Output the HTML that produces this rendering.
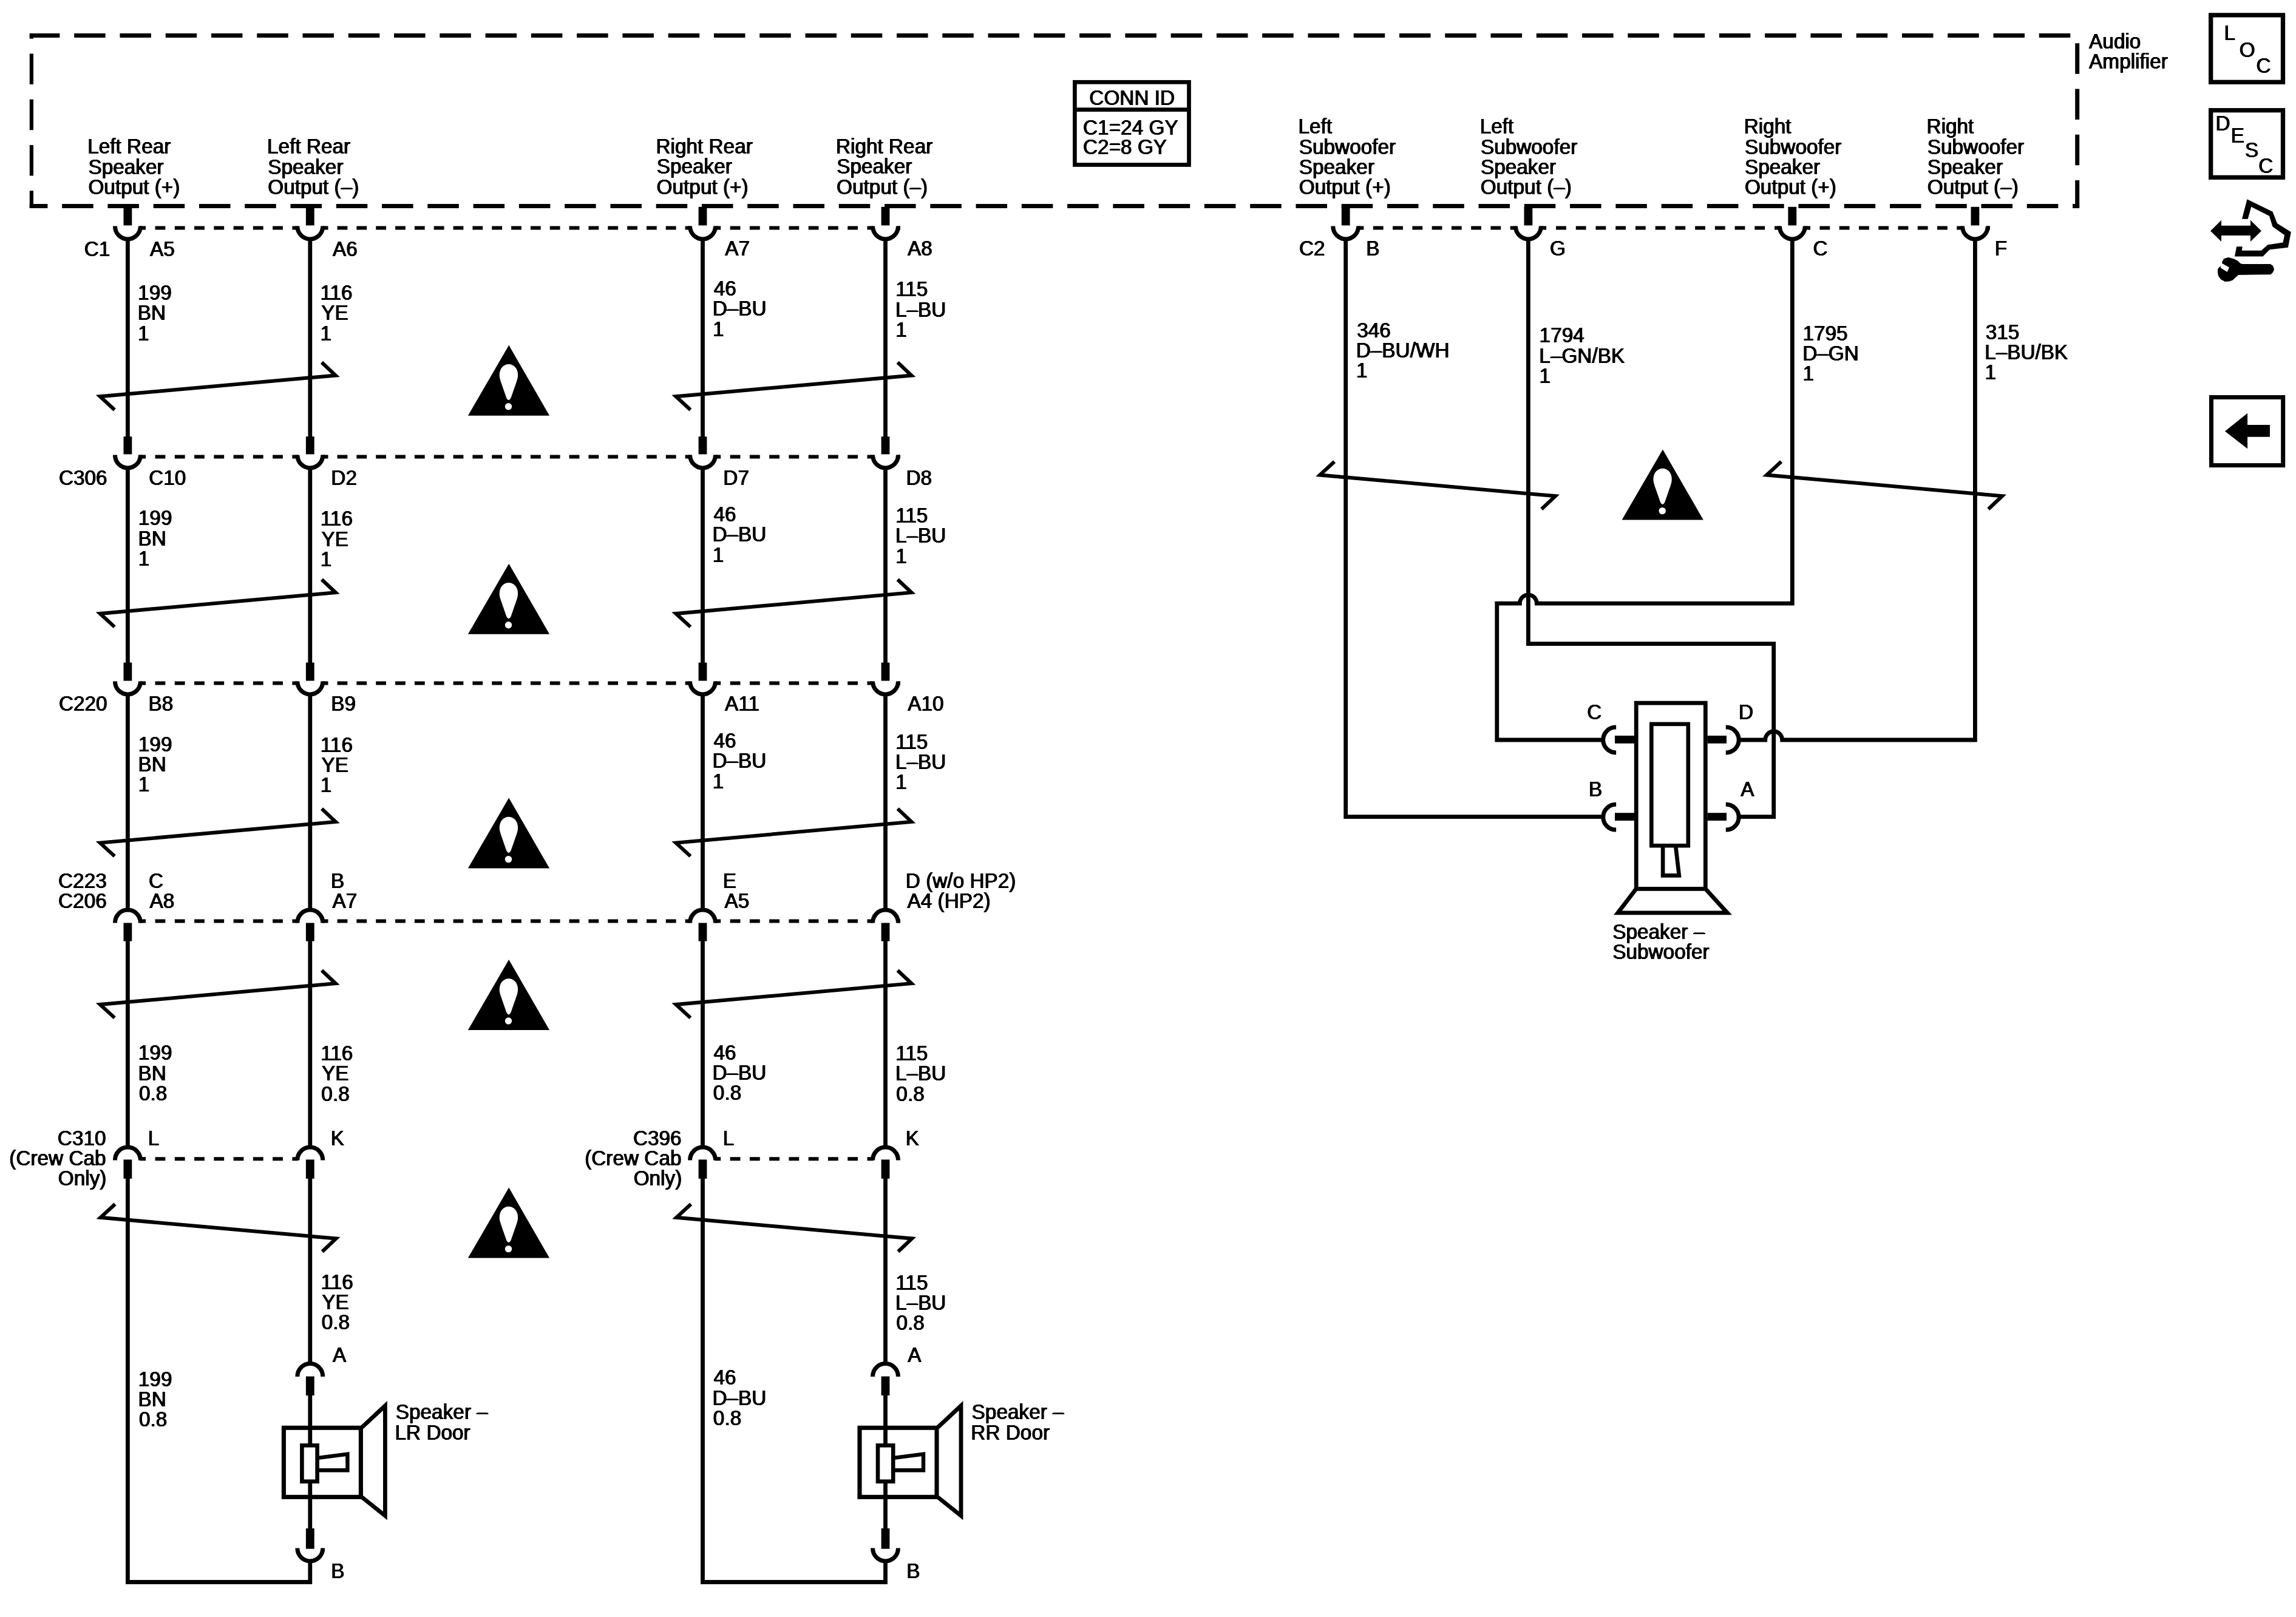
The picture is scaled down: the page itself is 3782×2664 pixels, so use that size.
<!DOCTYPE html>
<html><head><meta charset="utf-8"><title>Audio Amplifier Wiring</title>
<style>
html,body{margin:0;padding:0;background:#fff}
svg{display:block}
svg path,svg rect.o{fill:none;stroke:#000;stroke-miterlimit:6}
svg .k{fill:#000;stroke:none}
svg .w{fill:#fff;stroke:none}
svg text{font-family:"Liberation Sans",sans-serif;font-size:35.0px;fill:#000;white-space:pre;filter:url(#b)}
</style></head><body>
<svg width="3782" height="2664" viewBox="0 0 3782 2664">
<defs><filter id="b" x="-30%" y="-20%" width="160%" height="140%" color-interpolation-filters="sRGB"><feGaussianBlur in="SourceGraphic" stdDeviation="1 0"/><feComponentTransfer><feFuncA type="linear" slope="4" intercept="-0.7"/></feComponentTransfer></filter></defs>
<rect x="0" y="0" width="3782" height="2664" fill="#fff"/>
<path d="M48.8 58.5L3425.1 58.5" stroke-width="7.2" stroke-dasharray="51.5 23.77" stroke-dashoffset="1.9"/>
<path d="M48.8 339.4L3425.1 339.4" stroke-width="7" stroke-dasharray="51.5 23.77" stroke-dashoffset="21.9"/>
<path d="M51.9 54.9L51.9 342.9" stroke-width="6.2" stroke-dasharray="50.6 24.67" stroke-dashoffset="41.7"/>
<path d="M3421.7 55.2L3421.7 342.9" stroke-width="7" stroke-dasharray="50.4 24.87" stroke-dashoffset="59.17"/>
<text transform="translate(144.25 253.1) scale(0.953 1)">Left Rear</text>
<text transform="translate(145.5 286.6) scale(0.953 1)">Speaker</text>
<text transform="translate(145.42 319.7) scale(0.953 1)">Output (+)</text>
<text transform="translate(440.05 253.1) scale(0.953 1)">Left Rear</text>
<text transform="translate(441.3 286.6) scale(0.953 1)">Speaker</text>
<text transform="translate(441.22 319.7) scale(0.953 1)">Output (–)</text>
<text transform="translate(1080.45 253) scale(0.953 1)">Right Rear</text>
<text transform="translate(1081.7 286.4) scale(0.953 1)">Speaker</text>
<text transform="translate(1081.62 319.5) scale(0.953 1)">Output (+)</text>
<text transform="translate(1376.95 253) scale(0.953 1)">Right Rear</text>
<text transform="translate(1378.2 286.4) scale(0.953 1)">Speaker</text>
<text transform="translate(1378.12 319.5) scale(0.953 1)">Output (–)</text>
<text transform="translate(2138.55 220.4) scale(0.953 1)">Left</text>
<text transform="translate(2139.8 253.6) scale(0.953 1)">Subwoofer</text>
<text transform="translate(2139.8 286.9) scale(0.953 1)">Speaker</text>
<text transform="translate(2139.72 320.1) scale(0.953 1)">Output (+)</text>
<text transform="translate(2437.65 220.4) scale(0.953 1)">Left</text>
<text transform="translate(2438.9 253.6) scale(0.953 1)">Subwoofer</text>
<text transform="translate(2438.9 286.9) scale(0.953 1)">Speaker</text>
<text transform="translate(2438.82 320.1) scale(0.953 1)">Output (–)</text>
<text transform="translate(2872.75 220.4) scale(0.953 1)">Right</text>
<text transform="translate(2874 253.6) scale(0.953 1)">Subwoofer</text>
<text transform="translate(2874 286.9) scale(0.953 1)">Speaker</text>
<text transform="translate(2873.92 320.1) scale(0.953 1)">Output (+)</text>
<text transform="translate(3173.55 220.4) scale(0.953 1)">Right</text>
<text transform="translate(3174.8 253.6) scale(0.953 1)">Subwoofer</text>
<text transform="translate(3174.8 286.9) scale(0.953 1)">Speaker</text>
<text transform="translate(3174.72 320.1) scale(0.953 1)">Output (–)</text>
<text transform="translate(3441.12 79.5) scale(0.953 1)">Audio</text>
<text transform="translate(3441.12 112.8) scale(0.953 1)">Amplifier</text>
<rect x="1770.4" y="135.3" width="188.1" height="136.2" class="o" stroke-width="6.7"/>
<path d="M1770 180.6L1959 180.6" stroke-width="6.6"/>
<text transform="translate(1794.33 172.8) scale(0.953 1)">CONN ID</text>
<text transform="translate(1784.03 221.6) scale(0.953 1)">C1=24 GY</text>
<text transform="translate(1784.03 254.4) scale(0.953 1)">C2=8 GY</text>
<path d="M230.3 375.5L240.1 375.5" stroke-width="6.1"/>
<path d="M255.56 375.5L490.9 375.5" stroke-width="6.1" stroke-dasharray="16.8 15.46"/>
<path d="M530.7 375.5L540.5 375.5" stroke-width="6.1"/>
<path d="M555.54 375.5L1137.6 375.5" stroke-width="6.1" stroke-dasharray="16.8 15.04"/>
<path d="M1177.4 375.5L1187.2 375.5" stroke-width="6.1"/>
<path d="M1202.66 375.5L1438.6 375.5" stroke-width="6.1" stroke-dasharray="16.8 15.46"/>
<path d="M1478.4 375.5L1482.9 375.5" stroke-width="6.1"/>
<path d="M230.3 752.5L240.1 752.5" stroke-width="6.1"/>
<path d="M255.56 752.5L490.9 752.5" stroke-width="6.1" stroke-dasharray="16.8 15.46"/>
<path d="M530.7 752.5L540.5 752.5" stroke-width="6.1"/>
<path d="M555.54 752.5L1137.6 752.5" stroke-width="6.1" stroke-dasharray="16.8 15.04"/>
<path d="M1177.4 752.5L1187.2 752.5" stroke-width="6.1"/>
<path d="M1202.66 752.5L1438.6 752.5" stroke-width="6.1" stroke-dasharray="16.8 15.46"/>
<path d="M1478.4 752.5L1482.9 752.5" stroke-width="6.1"/>
<path d="M230.3 1125.5L240.1 1125.5" stroke-width="6.1"/>
<path d="M255.56 1125.5L490.9 1125.5" stroke-width="6.1" stroke-dasharray="16.8 15.46"/>
<path d="M530.7 1125.5L540.5 1125.5" stroke-width="6.1"/>
<path d="M555.54 1125.5L1137.6 1125.5" stroke-width="6.1" stroke-dasharray="16.8 15.04"/>
<path d="M1177.4 1125.5L1187.2 1125.5" stroke-width="6.1"/>
<path d="M1202.66 1125.5L1438.6 1125.5" stroke-width="6.1" stroke-dasharray="16.8 15.46"/>
<path d="M1478.4 1125.5L1482.9 1125.5" stroke-width="6.1"/>
<path d="M230.3 1517.5L240.1 1517.5" stroke-width="6.1"/>
<path d="M255.56 1517.5L490.9 1517.5" stroke-width="6.1" stroke-dasharray="16.8 15.46"/>
<path d="M530.7 1517.5L540.5 1517.5" stroke-width="6.1"/>
<path d="M555.54 1517.5L1137.6 1517.5" stroke-width="6.1" stroke-dasharray="16.8 15.04"/>
<path d="M1177.4 1517.5L1187.2 1517.5" stroke-width="6.1"/>
<path d="M1202.66 1517.5L1438.6 1517.5" stroke-width="6.1" stroke-dasharray="16.8 15.46"/>
<path d="M1478.4 1517.5L1482.9 1517.5" stroke-width="6.1"/>
<path d="M230.3 1909.2L240.1 1909.2" stroke-width="6.1"/>
<path d="M255.56 1909.2L490.9 1909.2" stroke-width="6.1" stroke-dasharray="16.8 15.46"/>
<path d="M1177.4 1909.2L1187.2 1909.2" stroke-width="6.1"/>
<path d="M1202.66 1909.2L1438.6 1909.2" stroke-width="6.1" stroke-dasharray="16.8 15.46"/>
<path d="M2236.6 375.5L2246.4 375.5" stroke-width="6.1"/>
<path d="M2261.86 375.5L2497.5 375.5" stroke-width="6.1" stroke-dasharray="16.8 15.46"/>
<path d="M2537.3 375.5L2547.1 375.5" stroke-width="6.1"/>
<path d="M2563.03 375.5L2932.4 375.5" stroke-width="6.1" stroke-dasharray="16.8 15.93"/>
<path d="M2972.2 375.5L2982 375.5" stroke-width="6.1"/>
<path d="M2997.46 375.5L3233.5 375.5" stroke-width="6.1" stroke-dasharray="16.8 15.46"/>
<path d="M3273.3 375.5L3277.8 375.5" stroke-width="6.1"/>
<rect x="203.5" y="340.8" width="13.8" height="30.6" class="k"/>
<path d="M189.5 372.5L189.5 373A20.9 20.9 0 0 0 231.3 373L231.3 372.5" stroke-width="7.0"/>
<path d="M210.4 393.9L210.4 748" stroke-width="6.8"/>
<rect x="203.5" y="719.2" width="13.8" height="29.2" class="k"/>
<path d="M189.5 749.5L189.5 750A20.9 20.9 0 0 0 231.3 750L231.3 749.5" stroke-width="7.0"/>
<path d="M210.4 770.9L210.4 1121" stroke-width="6.8"/>
<rect x="203.5" y="1091.6" width="13.8" height="30" class="k"/>
<path d="M189.5 1122.5L189.5 1123A20.9 20.9 0 0 0 231.3 1123L231.3 1122.5" stroke-width="7.0"/>
<path d="M210.4 1143.9L210.4 1499.1" stroke-width="6.8"/>
<path d="M189.5 1520.5L189.5 1520A20.9 20.9 0 0 1 231.3 1520L231.3 1520.5" stroke-width="7.0"/>
<rect x="203.5" y="1520.5" width="13.8" height="30.1" class="k"/>
<path d="M210.4 1550L210.4 1890.6" stroke-width="6.8"/>
<path d="M189.5 1911.5L189.5 1911A20.9 20.9 0 0 1 231.3 1911L231.3 1911.5" stroke-width="7.0"/>
<rect x="203.5" y="1910.4" width="13.8" height="31.4" class="k"/>
<rect x="503.9" y="340.8" width="13.8" height="30.6" class="k"/>
<path d="M489.9 372.5L489.9 373A20.9 20.9 0 0 0 531.7 373L531.7 372.5" stroke-width="7.0"/>
<path d="M510.8 393.9L510.8 748" stroke-width="6.8"/>
<rect x="503.9" y="719.2" width="13.8" height="29.2" class="k"/>
<path d="M489.9 749.5L489.9 750A20.9 20.9 0 0 0 531.7 750L531.7 749.5" stroke-width="7.0"/>
<path d="M510.8 770.9L510.8 1121" stroke-width="6.8"/>
<rect x="503.9" y="1091.6" width="13.8" height="30" class="k"/>
<path d="M489.9 1122.5L489.9 1123A20.9 20.9 0 0 0 531.7 1123L531.7 1122.5" stroke-width="7.0"/>
<path d="M510.8 1143.9L510.8 1499.1" stroke-width="6.8"/>
<path d="M489.9 1520.5L489.9 1520A20.9 20.9 0 0 1 531.7 1520L531.7 1520.5" stroke-width="7.0"/>
<rect x="503.9" y="1520.5" width="13.8" height="30.1" class="k"/>
<path d="M510.8 1550L510.8 1890.6" stroke-width="6.8"/>
<path d="M489.9 1911.5L489.9 1911A20.9 20.9 0 0 1 531.7 1911L531.7 1911.5" stroke-width="7.0"/>
<rect x="503.9" y="1910.4" width="13.8" height="31.4" class="k"/>
<rect x="1150.6" y="340.8" width="13.8" height="30.6" class="k"/>
<path d="M1136.6 372.5L1136.6 373A20.9 20.9 0 0 0 1178.4 373L1178.4 372.5" stroke-width="7.0"/>
<path d="M1157.5 393.9L1157.5 748" stroke-width="6.8"/>
<rect x="1150.6" y="719.2" width="13.8" height="29.2" class="k"/>
<path d="M1136.6 749.5L1136.6 750A20.9 20.9 0 0 0 1178.4 750L1178.4 749.5" stroke-width="7.0"/>
<path d="M1157.5 770.9L1157.5 1121" stroke-width="6.8"/>
<rect x="1150.6" y="1091.6" width="13.8" height="30" class="k"/>
<path d="M1136.6 1122.5L1136.6 1123A20.9 20.9 0 0 0 1178.4 1123L1178.4 1122.5" stroke-width="7.0"/>
<path d="M1157.5 1143.9L1157.5 1499.1" stroke-width="6.8"/>
<path d="M1136.6 1520.5L1136.6 1520A20.9 20.9 0 0 1 1178.4 1520L1178.4 1520.5" stroke-width="7.0"/>
<rect x="1150.6" y="1520.5" width="13.8" height="30.1" class="k"/>
<path d="M1157.5 1550L1157.5 1890.6" stroke-width="6.8"/>
<path d="M1136.6 1911.5L1136.6 1911A20.9 20.9 0 0 1 1178.4 1911L1178.4 1911.5" stroke-width="7.0"/>
<rect x="1150.6" y="1910.4" width="13.8" height="31.4" class="k"/>
<rect x="1451.6" y="340.8" width="13.8" height="30.6" class="k"/>
<path d="M1437.6 372.5L1437.6 373A20.9 20.9 0 0 0 1479.4 373L1479.4 372.5" stroke-width="7.0"/>
<path d="M1458.5 393.9L1458.5 748" stroke-width="6.8"/>
<rect x="1451.6" y="719.2" width="13.8" height="29.2" class="k"/>
<path d="M1437.6 749.5L1437.6 750A20.9 20.9 0 0 0 1479.4 750L1479.4 749.5" stroke-width="7.0"/>
<path d="M1458.5 770.9L1458.5 1121" stroke-width="6.8"/>
<rect x="1451.6" y="1091.6" width="13.8" height="30" class="k"/>
<path d="M1437.6 1122.5L1437.6 1123A20.9 20.9 0 0 0 1479.4 1123L1479.4 1122.5" stroke-width="7.0"/>
<path d="M1458.5 1143.9L1458.5 1499.1" stroke-width="6.8"/>
<path d="M1437.6 1520.5L1437.6 1520A20.9 20.9 0 0 1 1479.4 1520L1479.4 1520.5" stroke-width="7.0"/>
<rect x="1451.6" y="1520.5" width="13.8" height="30.1" class="k"/>
<path d="M1458.5 1550L1458.5 1890.6" stroke-width="6.8"/>
<path d="M1437.6 1911.5L1437.6 1911A20.9 20.9 0 0 1 1479.4 1911L1479.4 1911.5" stroke-width="7.0"/>
<rect x="1451.6" y="1910.4" width="13.8" height="31.4" class="k"/>
<path d="M210.4 1941L210.4 2606.5L510.8 2606.5L510.8 2571.9" stroke-width="6.8"/>
<path d="M510.8 1941L510.8 2246.6" stroke-width="6.8"/>
<path d="M489.9 2268L489.9 2267.5A20.9 20.9 0 0 1 531.7 2267.5L531.7 2268" stroke-width="7.0"/>
<rect x="503.9" y="2267.6" width="13.8" height="31.4" class="k"/>
<path d="M510.8 2298L510.8 2380" stroke-width="6.8"/>
<path d="M510.8 2442L510.8 2519" stroke-width="6.8"/>
<rect x="503.9" y="2518" width="13.8" height="33.7" class="k"/>
<path d="M489.9 2550.5L489.9 2551A20.9 20.9 0 0 0 531.7 2551L531.7 2550.5" stroke-width="7.0"/>
<rect x="467.4" y="2352.3" width="127" height="114" class="o" stroke-width="7.1"/>
<path d="M596.2 2351.6L634.4 2315.9L634.4 2497.1L596.2 2466.6" stroke-width="6.8"/>
<rect x="497.4" y="2381.3" width="25.2" height="59.4" class="o" stroke-width="6.6"/>
<path d="M524 2401.8L572.4 2395.6L572.4 2422.2L524 2422.2" stroke-width="6.4"/>
<path d="M1157.5 1941L1157.5 2606.5L1458.5 2606.5L1458.5 2571.9" stroke-width="6.8"/>
<path d="M1458.5 1941L1458.5 2246.6" stroke-width="6.8"/>
<path d="M1437.6 2268L1437.6 2267.5A20.9 20.9 0 0 1 1479.4 2267.5L1479.4 2268" stroke-width="7.0"/>
<rect x="1451.6" y="2267.6" width="13.8" height="31.4" class="k"/>
<path d="M1458.5 2298L1458.5 2380" stroke-width="6.8"/>
<path d="M1458.5 2442L1458.5 2519" stroke-width="6.8"/>
<rect x="1451.6" y="2518" width="13.8" height="33.7" class="k"/>
<path d="M1437.6 2550.5L1437.6 2551A20.9 20.9 0 0 0 1479.4 2551L1479.4 2550.5" stroke-width="7.0"/>
<rect x="1416" y="2352.3" width="127" height="114" class="o" stroke-width="7.1"/>
<path d="M1544.8 2351.6L1583 2315.9L1583 2497.1L1544.8 2466.6" stroke-width="6.8"/>
<rect x="1446" y="2381.3" width="25.2" height="59.4" class="o" stroke-width="6.6"/>
<path d="M1472.6 2401.8L1521 2395.6L1521 2422.2L1472.6 2422.2" stroke-width="6.4"/>
<path d="M188.8 675.2L164.8 653.2L552.8 618.5L530 597" stroke-width="6"/>
<path d="M1137.4 675.2L1113.4 653.2L1501.4 618.5L1478.6 597" stroke-width="6"/>
<path d="M188.8 1032.9L164.8 1010.9L552.8 976.2L530 954.7" stroke-width="6"/>
<path d="M1137.4 1032.9L1113.4 1010.9L1501.4 976.2L1478.6 954.7" stroke-width="6"/>
<path d="M188.8 1410.6L164.8 1388.6L552.8 1353.9L530 1332.4" stroke-width="6"/>
<path d="M1137.4 1410.6L1113.4 1388.6L1501.4 1353.9L1478.6 1332.4" stroke-width="6"/>
<path d="M188.8 1676.9L164.8 1654.9L552.8 1620.2L530 1598.7" stroke-width="6"/>
<path d="M1137.4 1676.9L1113.4 1654.9L1501.4 1620.2L1478.6 1598.7" stroke-width="6"/>
<path d="M189.6 1983.8L165.6 2005.8L553.6 2040.5L530.8 2062" stroke-width="6"/>
<path d="M1138.2 1983.8L1114.2 2005.8L1502.2 2040.5L1479.4 2062" stroke-width="6"/>
<path d="M2198.1 760.5L2174.1 782.5L2562.1 817.2L2539.3 838.7" stroke-width="6"/>
<path d="M2934.1 760.5L2910.1 782.5L3298.1 817.2L3275.3 838.7" stroke-width="6"/>
<path class="k" d="M838.2 568.8L905.1 684.8L770.9 684.8Z"/>
<path class="w" d="M822.7 617.8C822.7 606.8 829.9 600 837.9 600C845.9 600 853.1 606.8 853.1 617.8C853.1 621.8 851.9 625.8 850.9 628.8L841.5 655.8Q837.9 662.8 834.3 655.8L824.9 628.8C823.9 625.8 822.7 621.8 822.7 617.8Z"/>
<circle class="w" cx="837.5" cy="669.8" r="5.7"/>
<path class="k" d="M838.2 928.7L905.1 1044.7L770.9 1044.7Z"/>
<path class="w" d="M822.7 977.7C822.7 966.7 829.9 959.9 837.9 959.9C845.9 959.9 853.1 966.7 853.1 977.7C853.1 981.7 851.9 985.7 850.9 988.7L841.5 1015.7Q837.9 1022.7 834.3 1015.7L824.9 988.7C823.9 985.7 822.7 981.7 822.7 977.7Z"/>
<circle class="w" cx="837.5" cy="1029.7" r="5.7"/>
<path class="k" d="M838.2 1314.6L905.1 1430.6L770.9 1430.6Z"/>
<path class="w" d="M822.7 1363.6C822.7 1352.6 829.9 1345.8 837.9 1345.8C845.9 1345.8 853.1 1352.6 853.1 1363.6C853.1 1367.6 851.9 1371.6 850.9 1374.6L841.5 1401.6Q837.9 1408.6 834.3 1401.6L824.9 1374.6C823.9 1371.6 822.7 1367.6 822.7 1363.6Z"/>
<circle class="w" cx="837.5" cy="1415.6" r="5.7"/>
<path class="k" d="M838.2 1581L905.1 1697L770.9 1697Z"/>
<path class="w" d="M822.7 1630C822.7 1619 829.9 1612.2 837.9 1612.2C845.9 1612.2 853.1 1619 853.1 1630C853.1 1634 851.9 1638 850.9 1641L841.5 1668Q837.9 1675 834.3 1668L824.9 1641C823.9 1638 822.7 1634 822.7 1630Z"/>
<circle class="w" cx="837.5" cy="1682" r="5.7"/>
<path class="k" d="M838.2 1956.6L905.1 2072.6L770.9 2072.6Z"/>
<path class="w" d="M822.7 2005.6C822.7 1994.6 829.9 1987.8 837.9 1987.8C845.9 1987.8 853.1 1994.6 853.1 2005.6C853.1 2009.6 851.9 2013.6 850.9 2016.6L841.5 2043.6Q837.9 2050.6 834.3 2043.6L824.9 2016.6C823.9 2013.6 822.7 2009.6 822.7 2005.6Z"/>
<circle class="w" cx="837.5" cy="2057.6" r="5.7"/>
<path class="k" d="M2738.9 740.6L2805.8 856.6L2671.6 856.6Z"/>
<path class="w" d="M2723.4 789.6C2723.4 778.6 2730.6 771.8 2738.6 771.8C2746.6 771.8 2753.8 778.6 2753.8 789.6C2753.8 793.6 2752.6 797.6 2751.6 800.6L2742.2 827.6Q2738.6 834.6 2735 827.6L2725.6 800.6C2724.6 797.6 2723.4 793.6 2723.4 789.6Z"/>
<circle class="w" cx="2738.2" cy="841.6" r="5.7"/>
<rect x="2209.8" y="340.8" width="13.8" height="30.6" class="k"/>
<path d="M2195.8 372.5L2195.8 373A20.9 20.9 0 0 0 2237.6 373L2237.6 372.5" stroke-width="7.0"/>
<rect x="2510.5" y="340.8" width="13.8" height="30.6" class="k"/>
<path d="M2496.5 372.5L2496.5 373A20.9 20.9 0 0 0 2538.3 373L2538.3 372.5" stroke-width="7.0"/>
<rect x="2945.4" y="340.8" width="13.8" height="30.6" class="k"/>
<path d="M2931.4 372.5L2931.4 373A20.9 20.9 0 0 0 2973.2 373L2973.2 372.5" stroke-width="7.0"/>
<rect x="3246.5" y="340.8" width="13.8" height="30.6" class="k"/>
<path d="M3232.5 372.5L3232.5 373A20.9 20.9 0 0 0 3274.3 373L3274.3 372.5" stroke-width="7.0"/>
<path d="M2216.7 393.9L2216.7 1345.6L2640.7 1345.6" stroke-width="6.8"/>
<path d="M2517.4 393.9L2517.4 1060.7L2921.7 1060.7L2921.7 1345.6L2864.2 1345.6" stroke-width="6.8"/>
<path d="M2952.3 393.9L2952.3 994.1L2531.4 994.1A14.0 14.0 0 0 0 2503.4 994.1L2465.8 994.1L2465.8 1219L2640.7 1219" stroke-width="6.8"/>
<path d="M3253.4 393.9L3253.4 1219L2935.7 1219A14.0 14.0 0 0 0 2907.7 1219L2864.2 1219" stroke-width="6.8"/>
<path d="M2662.1 1198.1L2661.6 1198.1A20.9 20.9 0 0 0 2661.6 1239.9L2662.1 1239.9" stroke-width="7.0"/>
<path d="M2662.1 1325.3L2661.6 1325.3A20.9 20.9 0 0 0 2661.6 1367.1L2662.1 1367.1" stroke-width="7.0"/>
<path d="M2842.8 1198.1L2843.3 1198.1A20.9 20.9 0 0 1 2843.3 1239.9L2842.8 1239.9" stroke-width="7.0"/>
<path d="M2842.8 1325.3L2843.3 1325.3A20.9 20.9 0 0 1 2843.3 1367.1L2842.8 1367.1" stroke-width="7.0"/>
<rect x="2660" y="1212" width="32" height="12.8" class="k"/>
<rect x="2660" y="1339.2" width="32" height="12.8" class="k"/>
<rect x="2812.5" y="1212" width="31.5" height="12.8" class="k"/>
<rect x="2812.5" y="1339.2" width="31.5" height="12.8" class="k"/>
<rect x="2695.2" y="1158.2" width="114.1" height="306.2" class="o" stroke-width="6.8"/>
<rect x="2720.3" y="1192.9" width="60.5" height="200.3" class="o" stroke-width="6.6"/>
<path d="M2739.1 1394L2739.1 1442.4L2765.8 1442.4L2760.2 1394" stroke-width="6.6"/>
<path d="M2694.6 1465L2665 1503.9L2845.2 1503.9L2809.9 1465" stroke-width="6.9"/>
<text transform="translate(138.63 422) scale(0.953 1)">C1</text>
<text transform="translate(246.92 422) scale(0.953 1)">A5</text>
<text transform="translate(548.12 422) scale(0.953 1)">A6</text>
<text transform="translate(1194.22 421.4) scale(0.953 1)">A7</text>
<text transform="translate(1495.02 421.4) scale(0.953 1)">A8</text>
<text transform="translate(2140.03 420.8) scale(0.953 1)">C2</text>
<text transform="translate(2250.35 420.8) scale(0.953 1)">B</text>
<text transform="translate(2552.93 420.8) scale(0.953 1)">G</text>
<text transform="translate(2986.43 420.8) scale(0.953 1)">C</text>
<text transform="translate(3285.65 420.8) scale(0.953 1)">F</text>
<text transform="translate(227.1 494.2) scale(0.953 1)">199</text>
<text transform="translate(226.85 526.7) scale(0.953 1)">BN</text>
<text transform="translate(227.1 561) scale(0.953 1)">1</text>
<text transform="translate(527.4 494.2) scale(0.953 1)">116</text>
<text transform="translate(529.15 526.7) scale(0.953 1)">YE</text>
<text transform="translate(527.4 561) scale(0.953 1)">1</text>
<text transform="translate(1175.75 486.6) scale(0.953 1)">46</text>
<text transform="translate(1173.75 520) scale(0.953 1)">D–BU</text>
<text transform="translate(1174 553.6) scale(0.953 1)">1</text>
<text transform="translate(1475.2 488.4) scale(0.953 1)">115</text>
<text transform="translate(1474.95 521.7) scale(0.953 1)">L–BU</text>
<text transform="translate(1475.2 555) scale(0.953 1)">1</text>
<text transform="translate(2235.25 556) scale(0.953 1)">346</text>
<text transform="translate(2233.75 589.2) scale(0.953 1)">D–BU/WH</text>
<text transform="translate(2234 622.4) scale(0.953 1)">1</text>
<text transform="translate(2535.6 564.4) scale(0.953 1)">1794</text>
<text transform="translate(2535.35 598) scale(0.953 1)">L–GN/BK</text>
<text transform="translate(2535.6 631.4) scale(0.953 1)">1</text>
<text transform="translate(2969.4 561.4) scale(0.953 1)">1795</text>
<text transform="translate(2969.15 594.4) scale(0.953 1)">D–GN</text>
<text transform="translate(2969.4 627.4) scale(0.953 1)">1</text>
<text transform="translate(3270.65 558.9) scale(0.953 1)">315</text>
<text transform="translate(3269.15 592) scale(0.953 1)">L–BU/BK</text>
<text transform="translate(3269.4 625) scale(0.953 1)">1</text>
<text transform="translate(96.93 799) scale(0.953 1)">C306</text>
<text transform="translate(245.23 799) scale(0.953 1)">C10</text>
<text transform="translate(545.35 799) scale(0.953 1)">D2</text>
<text transform="translate(1191.35 799) scale(0.953 1)">D7</text>
<text transform="translate(1492.45 799) scale(0.953 1)">D8</text>
<text transform="translate(227.8 865.2) scale(0.953 1)">199</text>
<text transform="translate(227.55 899.4) scale(0.953 1)">BN</text>
<text transform="translate(227.8 932) scale(0.953 1)">1</text>
<text transform="translate(527.8 866) scale(0.953 1)">116</text>
<text transform="translate(529.55 900.2) scale(0.953 1)">YE</text>
<text transform="translate(527.8 932.6) scale(0.953 1)">1</text>
<text transform="translate(1175.45 859.1) scale(0.953 1)">46</text>
<text transform="translate(1173.45 892.4) scale(0.953 1)">D–BU</text>
<text transform="translate(1173.7 926) scale(0.953 1)">1</text>
<text transform="translate(1475.2 861) scale(0.953 1)">115</text>
<text transform="translate(1474.95 894.3) scale(0.953 1)">L–BU</text>
<text transform="translate(1475.2 927.6) scale(0.953 1)">1</text>
<text transform="translate(96.93 1171.1) scale(0.953 1)">C220</text>
<text transform="translate(244.55 1171.1) scale(0.953 1)">B8</text>
<text transform="translate(545.35 1171.1) scale(0.953 1)">B9</text>
<text transform="translate(1194.12 1171.1) scale(0.953 1)">A11</text>
<text transform="translate(1495.32 1171.1) scale(0.953 1)">A10</text>
<text transform="translate(227.8 1237.8) scale(0.953 1)">199</text>
<text transform="translate(227.55 1271.4) scale(0.953 1)">BN</text>
<text transform="translate(227.8 1304.4) scale(0.953 1)">1</text>
<text transform="translate(527.8 1238.6) scale(0.953 1)">116</text>
<text transform="translate(529.55 1272.1) scale(0.953 1)">YE</text>
<text transform="translate(527.8 1305.1) scale(0.953 1)">1</text>
<text transform="translate(1175.45 1231.8) scale(0.953 1)">46</text>
<text transform="translate(1173.45 1265.4) scale(0.953 1)">D–BU</text>
<text transform="translate(1173.7 1298.8) scale(0.953 1)">1</text>
<text transform="translate(1475.2 1233.8) scale(0.953 1)">115</text>
<text transform="translate(1474.95 1267) scale(0.953 1)">L–BU</text>
<text transform="translate(1475.2 1300.2) scale(0.953 1)">1</text>
<text transform="translate(96.03 1463.4) scale(0.953 1)">C223</text>
<text transform="translate(96.03 1496.4) scale(0.953 1)">C206</text>
<text transform="translate(245.03 1463.4) scale(0.953 1)">C</text>
<text transform="translate(246.62 1496.4) scale(0.953 1)">A8</text>
<text transform="translate(544.95 1463.4) scale(0.953 1)">B</text>
<text transform="translate(547.62 1496.4) scale(0.953 1)">A7</text>
<text transform="translate(1190.85 1462.8) scale(0.953 1)">E</text>
<text transform="translate(1193.52 1496.4) scale(0.953 1)">A5</text>
<text transform="translate(1491.85 1462.8) scale(0.953 1)">D (w/o HP2)</text>
<text transform="translate(1494.52 1496.4) scale(0.953 1)">A4 (HP2)</text>
<text transform="translate(227.8 1746.3) scale(0.953 1)">199</text>
<text transform="translate(227.55 1779.7) scale(0.953 1)">BN</text>
<text transform="translate(228.97 1813.2) scale(0.953 1)">0.8</text>
<text transform="translate(528.2 1747) scale(0.953 1)">116</text>
<text transform="translate(529.95 1780.3) scale(0.953 1)">YE</text>
<text transform="translate(529.37 1813.7) scale(0.953 1)">0.8</text>
<text transform="translate(1175.45 1745.5) scale(0.953 1)">46</text>
<text transform="translate(1173.45 1778.8) scale(0.953 1)">D–BU</text>
<text transform="translate(1174.87 1812.4) scale(0.953 1)">0.8</text>
<text transform="translate(1475.2 1747.2) scale(0.953 1)">115</text>
<text transform="translate(1474.95 1780.4) scale(0.953 1)">L–BU</text>
<text transform="translate(1476.37 1813.8) scale(0.953 1)">0.8</text>
<text transform="translate(94.83 1886.6) scale(0.953 1)">C310</text>
<text transform="translate(15.28 1920.4) scale(0.953 1)">(Crew Cab</text>
<text transform="translate(95.75 1953.4) scale(0.953 1)">Only)</text>
<text transform="translate(1042.9 1886.6) scale(0.953 1)">C396</text>
<text transform="translate(963.18 1920.4) scale(0.953 1)">(Crew Cab</text>
<text transform="translate(1043.65 1953.4) scale(0.953 1)">Only)</text>
<text transform="translate(243.65 1886.6) scale(0.953 1)">L</text>
<text transform="translate(544.85 1886.6) scale(0.953 1)">K</text>
<text transform="translate(1190.85 1886.6) scale(0.953 1)">L</text>
<text transform="translate(1491.85 1886.6) scale(0.953 1)">K</text>
<text transform="translate(528.6 2124) scale(0.953 1)">116</text>
<text transform="translate(530.35 2157.2) scale(0.953 1)">YE</text>
<text transform="translate(529.77 2190.4) scale(0.953 1)">0.8</text>
<text transform="translate(1475.3 2124.8) scale(0.953 1)">115</text>
<text transform="translate(1475.05 2158) scale(0.953 1)">L–BU</text>
<text transform="translate(1476.47 2191.2) scale(0.953 1)">0.8</text>
<text transform="translate(548.12 2244.2) scale(0.953 1)">A</text>
<text transform="translate(1495.32 2244.2) scale(0.953 1)">A</text>
<text transform="translate(545.15 2599.8) scale(0.953 1)">B</text>
<text transform="translate(1493.15 2599.8) scale(0.953 1)">B</text>
<text transform="translate(227.8 2283.5) scale(0.953 1)">199</text>
<text transform="translate(227.55 2316.7) scale(0.953 1)">BN</text>
<text transform="translate(228.97 2349.8) scale(0.953 1)">0.8</text>
<text transform="translate(1175.45 2281.4) scale(0.953 1)">46</text>
<text transform="translate(1173.45 2314.6) scale(0.953 1)">D–BU</text>
<text transform="translate(1174.87 2347.8) scale(0.953 1)">0.8</text>
<text transform="translate(651.8 2338.3) scale(0.953 1)">Speaker –</text>
<text transform="translate(650.55 2371.8) scale(0.953 1)">LR Door</text>
<text transform="translate(1600.6 2338.3) scale(0.953 1)">Speaker –</text>
<text transform="translate(1599.35 2371.8) scale(0.953 1)">RR Door</text>
<text transform="translate(2614.23 1185.3) scale(0.953 1)">C</text>
<text transform="translate(2863.95 1185.3) scale(0.953 1)">D</text>
<text transform="translate(2616.95 1312.4) scale(0.953 1)">B</text>
<text transform="translate(2867.32 1311.8) scale(0.953 1)">A</text>
<text transform="translate(2656.2 1546.6) scale(0.953 1)">Speaker –</text>
<text transform="translate(2656.2 1580.2) scale(0.953 1)">Subwoofer</text>
<rect x="3641.7" y="24.9" width="118.8" height="110.4" class="o" stroke-width="7.3"/>
<text transform="translate(3663.47 65.8) scale(0.953 1)" font-size="33.5">L</text>
<text transform="translate(3688.68 94.1) scale(0.953 1)" font-size="33.5">O</text>
<text transform="translate(3716.4 119.8) scale(0.953 1)" font-size="33.5">C</text>
<rect x="3641.7" y="181.7" width="118.8" height="110.6" class="o" stroke-width="7.3"/>
<text transform="translate(3649.54 215) scale(0.953 1)" font-size="32.5">D</text>
<text transform="translate(3674.64 235.3) scale(0.953 1)" font-size="32.5">E</text>
<text transform="translate(3697.91 259.4) scale(0.953 1)" font-size="32.5">S</text>
<text transform="translate(3720.35 284.6) scale(0.953 1)" font-size="32.5">C</text>
<path class="k" d="M3693.05 360.63L3701.46 328.21L3743.53 348.87L3750.95 368.05L3773.84 382.28L3768.89 407.65L3738.58 411.36L3727.44 422.49L3681.04 422.49L3684.14 406.16L3693.79 406.16L3692.8 412.84L3724.72 412.84L3735.49 403.32L3760.6 399.6L3763.08 387.23L3743.53 373.62L3737.96 355.68L3708.27 340.83L3702.7 360.63Z"/>
<path class="k" d="M3641.08 380.43L3659.02 362.86L3659.02 371.76L3707.03 371.76L3707.03 362.86L3724.97 380.43L3707.03 398.12L3707.03 388.1L3659.02 388.1L3659.02 398.12Z"/>
<path class="k" d="M3660.26 431.16L3663.1 426.21L3670.53 424.1L3679.19 426.21L3686.61 429.92L3690.32 433.88L3694.04 435.12L3739.82 435.12L3744.15 437.96L3746 443.53L3744.15 448.48L3740.44 452.19L3716.31 452.44L3687.23 453.06L3682.28 457.14L3677.95 461.47L3672.38 463.57L3664.96 463.94L3658.15 460.23L3654.19 454.66L3652.96 448.48L3653.2 442.91L3657.78 437.96L3657.78 441.3L3668.67 448.11L3672.01 440.44L3660.26 433.88Z"/>
<rect x="3642.5" y="654.5" width="118.2" height="112.1" class="o" stroke-width="7"/>
<path class="k" d="M3664.96 710.49L3702.08 680.8L3702.08 699.98L3738.95 699.98L3738.95 719.77L3702.08 719.77L3702.08 739.2Z"/>
</svg>
</body></html>
